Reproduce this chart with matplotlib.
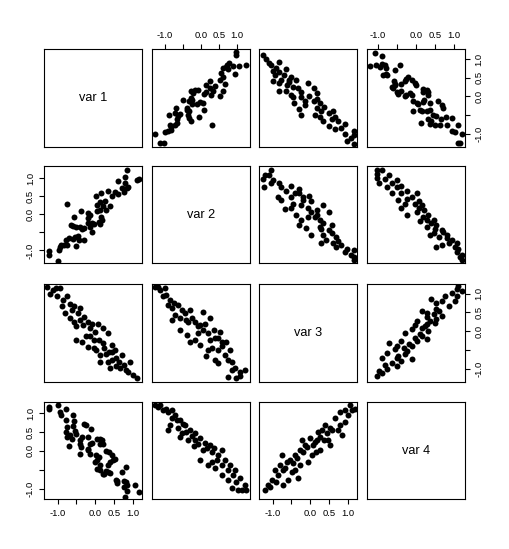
import matplotlib
matplotlib.use("Agg")
import matplotlib.pyplot as plt

plt.rcParams['font.family'] = ['Liberation Sans', 'DejaVu Sans']

# ---------------- data ----------------
var_names = ["var 1", "var 2", "var 3", "var 4"]
tick_values = [-1.0, -0.5, 0.0, 0.5, 1.0]
tick_labels = ["-1.0", "", "0.0", "0.5", "1.0"]

# panel var1 (x) vs var2 (y)
p21_var1 = [0.84, 0.81, 0.60, 0.81, 1.11, 1.18, 0.72, 0.78, 0.84, 0.89, 0.76, 0.53, 0.62, 0.44,
            0.33, 0.15, 0.02, 0.27, 0.13, 0.04, 0.22, 0.40, 0.12, 0.06, 0.29, 0.16, 0.18, 0.09,
            0.13, -0.04, -0.09, -0.13, -0.20, -0.18, -0.15, -0.37, -0.31, -0.36, -0.40, -0.56,
            -0.65, -0.58, -0.51, -0.47, -0.53, -0.60, -0.44, -0.51, -0.31, -0.76, -0.71, -0.77,
            -0.76, -0.83, -0.91, -0.93, -0.97, -1.00, -1.24, -1.24, -0.20, -0.09]
p21_var2 = [1.23, 1.05, 0.93, 0.88, 0.95, 0.97, 0.74, 0.70, 0.72, 0.76, 0.61, 0.61, 0.56, 0.51,
            0.65, 0.59, 0.51, 0.38, 0.33, 0.27, 0.24, 0.24, 0.12, 0.08, 0.12, -0.08, -0.17, -0.22,
            -0.27, -0.27, -0.25, -0.34, -0.25, 0.04, -0.02, 0.08, -0.39, -0.40, -0.34, -0.06,
            -0.29, -0.33, -0.36, -0.59, -0.63, -0.68, -0.72, -0.88, -0.70, 0.30, -0.66, -0.72,
            -0.86, -0.84, -0.84, -0.91, -1.00, -1.28, -1.02, -1.14, -0.11, -0.50]

# panel var1 (x) vs var3 (y)
p31_var1 = [-1.28, -1.12, -0.93, -1.01, -0.85, -0.67, -0.80, -0.67, -0.56, -0.45, -0.40, -0.51,
            -0.32, -0.19, -0.08, -0.24, -0.13, 0.00, 0.11, 0.21, 0.03, 0.13, 0.29, 0.37, 0.45,
            0.56, 0.64, 0.72, 0.77, 0.88, 1.01, 1.12, -0.35, -0.19, -0.03, 0.21, 0.35, 0.45,
            -0.88, -0.56, -0.29, 0.53, 0.67, 0.35, 0.13,
            -1.20, -1.04, -0.75, -0.61, -0.40, -0.13, 0.08, -0.03, 0.24, 0.45, 0.56, 0.83,
            0.93, 0.40, -0.51]
p31_var3 = [1.18, 1.10, 1.16, 0.94, 0.83, 0.73, 0.49, 0.35, 0.25, 0.49, 0.62, 0.14, 0.17, 0.25,
            0.19, -0.13, -0.13, -0.02, -0.24, -0.32, -0.50, -0.64, -0.61, -0.56, -0.77, -0.71,
            -0.82, -0.64, -0.90, -1.09, -1.17, -1.25, -0.29, -0.42, -0.45, 0.09, -0.05, -0.37,
            0.67, 0.67, 0.38, -0.50, -0.98, -0.82, -0.82,
            0.99, 1.16, 0.94, 0.57, 0.30, 0.09, 0.19, -0.24, -0.45, -0.56, -0.93, -1.04,
            -0.82, -0.98, -0.24]

# panel var1 (x) vs var4 (y)
p41_var1 = [-1.24, -1.24, -1.00, -0.95, -0.92, -0.77, -0.77, -0.58, -0.56, -0.60, -0.76, -0.77,
            -0.74, -0.67, -0.62, -0.71, -0.53, -0.51, -0.31, -0.24, -0.12, -0.36, -0.40, -0.40,
            -0.38, -0.40, -0.18, -0.09, -0.15, -0.20, -0.18, -0.13, 0.04, 0.12, 0.18, 0.12, 0.20,
            0.03, 0.09, 0.04, 0.00, 0.13, 0.06, 0.12, 0.29, 0.36, 0.44, 0.40, 0.47, 0.53, 0.33,
            0.29, 0.22, 0.33, 0.40, 0.24, 0.71, 0.83, 0.56, 0.58, 0.59, 0.76, 0.83, 0.86, 0.78,
            0.84, 0.81, 1.07, 1.16]
p41_var4 = [1.16, 1.10, 1.20, 1.03, 0.96, 1.10, 0.81, 0.94, 0.78, 0.66, 0.63, 0.50, 0.37, 0.41,
            0.32, 0.13, 0.52, 0.46, 0.72, 0.68, 0.57, 0.37, 0.28, 0.17, 0.11, -0.07, 0.37, 0.22,
            0.19, 0.06, 0.02, -0.07, 0.32, 0.31, 0.28, 0.19, 0.19, -0.10, -0.16, -0.25, -0.29,
            -0.38, -0.48, -0.51, -0.01, -0.03, -0.10, -0.29, -0.25, -0.20, -0.38, -0.54, -0.60,
            -0.56, -0.57, -0.62, -0.55, -0.42, -0.77, -0.86, -0.80, -0.80, -0.82, -0.89, -0.95,
            -1.06, -1.21, -0.89, -1.08]

# panel var2 (x) vs var3 (y)
p32_var2 = [-1.27, -1.13, -0.99, -1.05, -0.86, -0.91, -0.75, -0.72, -0.58, -0.44, -0.30, -0.36,
            -0.17, -0.03, 0.11, -0.08, 0.19, 0.25, 0.39, 0.30, 0.47, 0.58, 0.66, 0.75, 0.86, 0.94,
            1.08, 1.22, 0.97, 0.75, -0.58, -0.39, -0.17, 0.06, 0.25, 0.52, 0.69, 0.39, 0.14,
            -0.80, -0.64,
            -1.19, -0.97, -0.80, -0.52, -0.41, -0.25, -0.08, 0.06, 0.36, 0.47, 0.58, 0.80, 0.86,
            1.08, -0.30, 0.19, -0.03, 0.47]
p32_var3 = [1.18, 1.10, 1.16, 0.94, 0.83, 0.70, 0.75, 0.43, 0.35, 0.49, 0.57, 0.25, 0.25, 0.17,
            0.19, -0.05, -0.05, -0.24, -0.18, -0.45, -0.50, -0.40, -0.64, -0.77, -0.82, -0.98,
            -1.09, -1.04, -1.25, -1.22, 0.03, -0.10, -0.24, 0.51, 0.35, -0.02, -0.29, -0.77,
            -0.66, 0.30, 0.70,
            1.18, 0.97, 0.62, 0.57, 0.30, 0.35, 0.14, 0.03, 0.03, -0.18, -0.29, -0.50, -1.04,
            -1.20, -0.29, -0.50, -0.37, -0.85]

# panel var2 (x) vs var4 (y)
p42_var2 = [-1.27, -1.19, -1.05, -0.91, -0.80, -0.72, -0.58, -0.86, -0.64, -0.44, -0.30, -0.17,
            -0.36, -0.17, -0.03, 0.11, 0.25, 0.06, 0.30, 0.47, 0.58, 0.66, 0.80, 0.94, 1.08, 1.02,
            1.22, 0.39, 0.58, 0.75, -0.58, -0.91, -0.03, 0.19, 0.86,
            -1.13, -0.97, -0.80, -0.66, -0.50, -0.41, -0.25, -0.08, 0.17, 0.36, 0.44, 0.58, 0.75,
            0.88, 0.97, 1.13, 1.24, -0.19, -0.52, 0.30]
p42_var4 = [1.20, 1.15, 1.07, 1.02, 0.86, 0.94, 0.81, 0.68, 0.60, 0.68, 0.54, 0.47, 0.28, 0.28,
            0.33, 0.20, 0.15, 0.02, -0.03, -0.11, 0.02, -0.24, -0.38, -0.51, -0.72, -1.03, -0.90,
            -0.46, -0.64, -0.77, 0.36, 0.54, -0.24, -0.38, -0.98,
            1.20, 1.12, 1.07, 0.81, 0.70, 0.49, 0.39, 0.18, 0.07, 0.07, -0.24, -0.38, -0.51,
            -0.64, -0.82, -1.03, -1.03, 0.12, 0.47, -0.30]

# panel var3 (x) vs var4 (y)
p43_var3 = [-1.20, -1.12, -1.01, -0.93, -0.85, -0.80, -0.67, -0.53, -0.40, -0.27, -0.21, -0.13,
            0.00, 0.13, 0.21, 0.32, 0.40, 0.53, 0.67, 0.80, 0.93, 1.07, 1.20, -0.48, -0.32, -0.59,
            -0.05, 0.05, 0.27, 0.48, 0.75, 0.93, -0.75,
            -1.07, -0.91, -0.72, -0.61, -0.45, -0.35, -0.19, -0.08, 0.08, 0.19, 0.27, 0.37, 0.45,
            0.59, 0.80, 1.01, 1.12, -0.27, -0.40, -0.72, 0.16, 0.53, 0.85]
p43_var4 = [-1.03, -0.90, -0.77, -0.51, -0.64, -0.38, -0.46, -0.24, -0.11, 0.02, 0.28, 0.15,
            0.33, 0.23, 0.49, 0.54, 0.68, 0.60, 0.86, 1.02, 1.07, 1.20, 1.12, -0.56, -0.72, -0.77,
            -0.30, -0.11, 0.02, 0.28, 0.54, 0.76, -0.11,
            -0.96, -0.82, -0.51, -0.30, -0.32, -0.19, -0.03, 0.10, 0.15, 0.28, 0.36, 0.28, 0.47,
            0.54, 0.68, 0.94, 1.07, -0.38, -0.51, -0.90, -0.03, 0.15, 0.41]

pairs = {
    (1, 0): (p21_var1, p21_var2),
    (2, 0): (p31_var1, p31_var3),
    (3, 0): (p41_var1, p41_var4),
    (2, 1): (p32_var2, p32_var3),
    (3, 1): (p42_var2, p42_var4),
    (3, 2): (p43_var3, p43_var4),
}

# ---------------- layout ----------------
W, H = 510, 549
fig = plt.figure(figsize=(W / 100, H / 100), dpi=100)
col_left = [44.3, 152.0, 259.5, 367.3]
row_top = [49.3, 165.7, 284.0, 401.7]
pw, ph = 98.0, 97.7
lims = [(-1.36, 1.26), (-1.36, 1.35), (-1.35, 1.26), (-1.28, 1.30)]

tick_fs = 6.8
for i in range(4):
    for j in range(4):
        ax = fig.add_axes([col_left[j] / W, 1 - (row_top[i] + ph) / H, pw / W, ph / H])
        ax.set_xlim(lims[j])
        ax.set_ylim(lims[i])
        for s in ax.spines.values():
            s.set_linewidth(0.8)
            s.set_color('black')
        ax.set_xticks([])
        ax.set_yticks([])
        if i == j:
            ax.text(0.5, 0.5, var_names[i], transform=ax.transAxes, ha='center', va='center',
                    fontsize=9.2)
        else:
            if i > j:
                xs, ys = pairs[(i, j)]
            else:
                ys, xs = pairs[(j, i)]
            ax.plot(xs, ys, 'o', color='black', markersize=4.3, markeredgewidth=0)
        # axes like R pairs()
        if i == 0 and j % 2 == 1:
            ax.set_xticks(tick_values)
            ax.set_xticklabels(tick_labels)
            ax.tick_params(axis='x', top=True, bottom=False, labeltop=True, labelbottom=False,
                           length=3.6, width=0.8, pad=3.2, labelsize=tick_fs)
        if i == 3 and j % 2 == 0:
            ax.set_xticks(tick_values)
            ax.set_xticklabels(tick_labels)
            ax.tick_params(axis='x', length=3.6, width=0.8, pad=3.2, labelsize=tick_fs)
        if j == 0 and i % 2 == 1:
            ax.set_yticks(tick_values)
            ax.set_yticklabels(tick_labels, rotation=90, va='center')
            ax.tick_params(axis='y', length=3.6, width=0.8, pad=3.2, labelsize=tick_fs)
        if j == 3 and i % 2 == 0:
            ax.set_yticks(tick_values)
            ax.set_yticklabels(tick_labels, rotation=90, va='center')
            ax.tick_params(axis='y', left=False, right=True, labelleft=False, labelright=True,
                           length=3.6, width=0.8, pad=3.2, labelsize=tick_fs)

fig.savefig("out.png", dpi=100)
